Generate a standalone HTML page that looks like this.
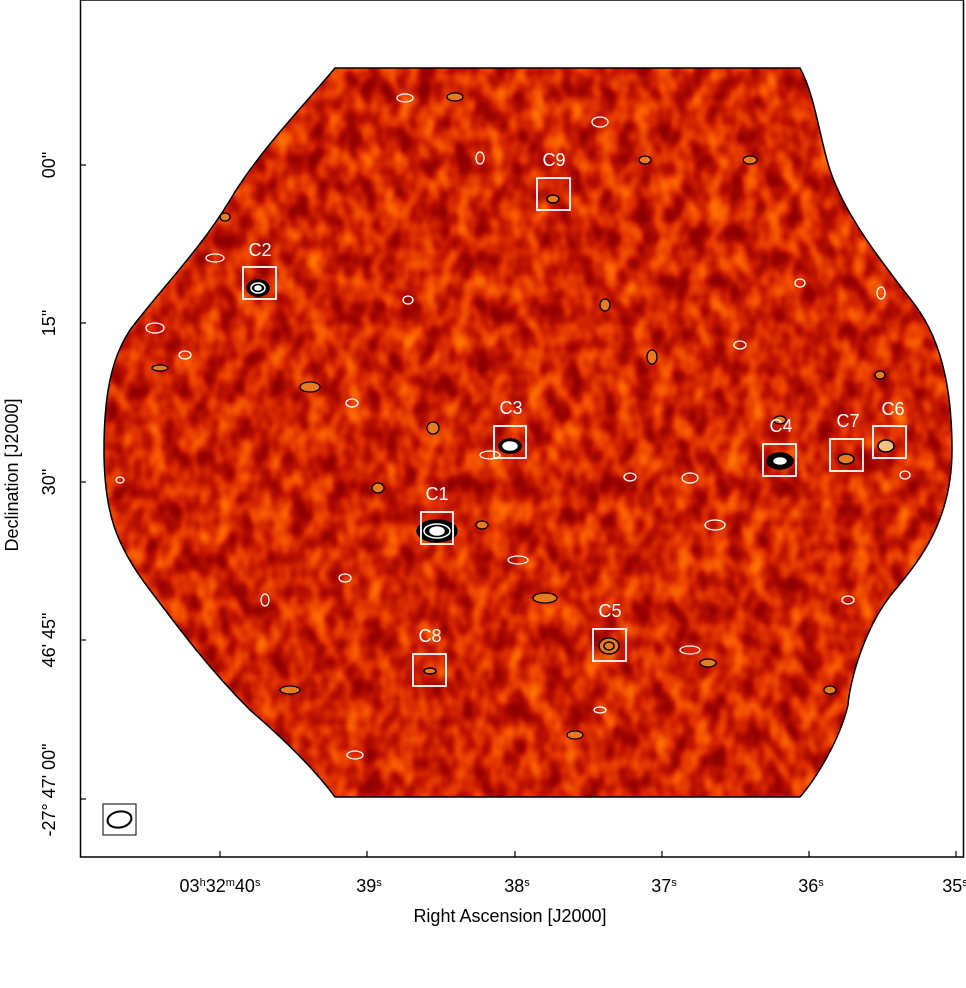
<!DOCTYPE html>
<html><head><meta charset="utf-8"><style>
body{margin:0;background:#fff;width:966px;height:988px;overflow:hidden}
svg{position:absolute;left:0;top:0}
text{font-family:"Liberation Sans","DejaVu Sans",sans-serif}
</style></head><body>
<svg width="966" height="988" viewBox="0 0 966 988">
<defs>
<filter id="n" x="0" y="0" width="100%" height="100%" color-interpolation-filters="sRGB">
<feTurbulence type="fractalNoise" baseFrequency="0.055 0.04" numOctaves="2" seed="7" result="t"/>
<feColorMatrix in="t" type="matrix" values="1 0 0 0 0  1 0 0 0 0  1 0 0 0 0  0 0 0 0 1" result="g"/>
<feComponentTransfer in="g">
<feFuncR type="table" tableValues="0.5 0.55 0.62 0.75 0.88 0.96 1 1"/>
<feFuncG type="table" tableValues="0 0 0.02 0.08 0.2 0.33 0.45 0.55"/>
<feFuncB type="table" tableValues="0 0 0 0 0 0 0 0"/>
</feComponentTransfer>
</filter>
<clipPath id="cp"><path id="shape" d="M335,68 L800,68 C815,95 820,140 830,170 C845,215 880,260 915,305 C945,345 952,400 952,450 C952,520 920,560 895,590 C865,625 850,680 848,705 C840,740 815,780 800,797 L335,797 C315,770 285,740 250,710 C210,670 180,630 150,590 C115,545 104,510 104,450 C104,400 110,360 130,330 C160,290 200,250 230,200 C260,150 300,110 335,68 Z"/></clipPath>
</defs>
<g clip-path="url(#cp)">
<rect x="80" y="60" width="885" height="745" fill="#c0320a"/>
<rect x="80" y="60" width="885" height="745" filter="url(#n)"/>
</g>
<use href="#shape" fill="none" stroke="#000" stroke-width="1.5"/>
<g fill="none" stroke-width="1.5">
<ellipse cx="437" cy="531" rx="20" ry="11" fill="#000" stroke="#000"/>
<ellipse cx="437" cy="531" rx="13" ry="7" stroke="#fff"/>
<ellipse cx="437" cy="531" rx="7" ry="4" fill="#fff" stroke="#fff"/>
<ellipse cx="258" cy="288" rx="11" ry="8" fill="#000" stroke="#000"/>
<ellipse cx="258" cy="288" rx="7" ry="5" stroke="#fff"/>
<ellipse cx="258" cy="288" rx="3" ry="2" fill="#fff" stroke="#fff"/>
<ellipse cx="510" cy="446" rx="11" ry="7" fill="#000" stroke="#000"/>
<ellipse cx="510" cy="446" rx="7" ry="4" fill="#fff" stroke="#fff"/>
<ellipse cx="780" cy="461" rx="13" ry="8" fill="#000" stroke="#000"/>
<ellipse cx="780" cy="461" rx="6" ry="3" fill="#fff" stroke="#fff"/>
<ellipse cx="609" cy="646" rx="10" ry="8" fill="#e87a20" stroke="#000"/>
<ellipse cx="609" cy="646" rx="5" ry="4" stroke="#000"/>
<ellipse cx="846" cy="459" rx="8" ry="5" fill="#e87a20" stroke="#000"/>
<ellipse cx="886" cy="446" rx="8" ry="6" fill="#f5c080" stroke="#000"/>
<ellipse cx="553" cy="199" rx="6" ry="4" fill="#e87a20" stroke="#000"/>
<ellipse cx="430" cy="671" rx="6" ry="3" fill="#e87a20" stroke="#000"/>
</g>
<g fill="none" stroke-width="1.3">
<g stroke="#fff">
<ellipse cx="405" cy="98" rx="8" ry="4"/><ellipse cx="600" cy="122" rx="8" ry="5"/><ellipse cx="480" cy="158" rx="4" ry="6"/>
<ellipse cx="215" cy="258" rx="9" ry="4"/><ellipse cx="155" cy="328" rx="9" ry="5"/><ellipse cx="185" cy="355" rx="6" ry="4"/>
<ellipse cx="352" cy="403" rx="6" ry="4"/><ellipse cx="690" cy="478" rx="8" ry="5"/><ellipse cx="630" cy="477" rx="6" ry="4"/>
<ellipse cx="518" cy="560" rx="10" ry="4"/><ellipse cx="345" cy="578" rx="6" ry="4"/><ellipse cx="265" cy="600" rx="4" ry="6"/>
<ellipse cx="690" cy="650" rx="10" ry="4"/><ellipse cx="800" cy="283" rx="5" ry="4"/><ellipse cx="881" cy="293" rx="4" ry="6"/>
<ellipse cx="848" cy="600" rx="6" ry="4"/><ellipse cx="715" cy="525" rx="10" ry="5"/><ellipse cx="120" cy="480" rx="4" ry="3"/>
<ellipse cx="600" cy="710" rx="6" ry="3"/><ellipse cx="355" cy="755" rx="8" ry="4"/><ellipse cx="490" cy="455" rx="10" ry="4"/>
<ellipse cx="905" cy="475" rx="5" ry="4"/><ellipse cx="740" cy="345" rx="6" ry="4"/><ellipse cx="408" cy="300" rx="5" ry="4"/>
</g>
<g stroke="#000" fill="#e87a20">
<ellipse cx="455" cy="97" rx="8" ry="4"/><ellipse cx="645" cy="160" rx="6" ry="4"/><ellipse cx="750" cy="160" rx="7" ry="4"/>
<ellipse cx="605" cy="305" rx="5" ry="6"/><ellipse cx="652" cy="357" rx="5" ry="7"/><ellipse cx="310" cy="387" rx="10" ry="5"/>
<ellipse cx="433" cy="428" rx="6" ry="6"/><ellipse cx="378" cy="488" rx="6" ry="5"/><ellipse cx="545" cy="598" rx="12" ry="5"/>
<ellipse cx="290" cy="690" rx="10" ry="4"/><ellipse cx="708" cy="663" rx="8" ry="4"/><ellipse cx="830" cy="690" rx="6" ry="4"/>
<ellipse cx="160" cy="368" rx="8" ry="3"/><ellipse cx="880" cy="375" rx="5" ry="4"/><ellipse cx="780" cy="420" rx="6" ry="4"/>
<ellipse cx="575" cy="735" rx="8" ry="4"/><ellipse cx="482" cy="525" rx="6" ry="4"/><ellipse cx="225" cy="217" rx="5" ry="4"/>
</g>
</g>
<g fill="none" stroke="#fff" stroke-width="1.8">
<rect x="421" y="512" width="32" height="32"/>
<rect x="243" y="267" width="33" height="32"/>
<rect x="494" y="426" width="32" height="32"/>
<rect x="763" y="444" width="33" height="32"/>
<rect x="830" y="439" width="33" height="32"/>
<rect x="873" y="426" width="33" height="32"/>
<rect x="593" y="629" width="33" height="32"/>
<rect x="413" y="654" width="33" height="32"/>
<rect x="537" y="178" width="33" height="32"/>
</g>
<g fill="#fff" font-size="18" text-anchor="middle">
<text x="437" y="500">C1</text><text x="260" y="256">C2</text><text x="511" y="414">C3</text>
<text x="781" y="432">C4</text><text x="610" y="617">C5</text><text x="893" y="415">C6</text>
<text x="848" y="427">C7</text><text x="430" y="642">C8</text><text x="554" y="166">C9</text>
</g>
<rect x="103" y="804" width="33" height="31" fill="none" stroke="#000" stroke-width="1"/>
<ellipse cx="119.5" cy="819.5" rx="12" ry="8" transform="rotate(-10 119.5 819.5)" fill="none" stroke="#000" stroke-width="2"/>
<rect x="80.5" y="0" width="883" height="857" fill="none" stroke="#000" stroke-width="1.5"/>
<g stroke="#000" stroke-width="1.2">
<line x1="220" y1="857" x2="220" y2="851"/><line x1="367" y1="857" x2="367" y2="851"/><line x1="515" y1="857" x2="515" y2="851"/>
<line x1="662" y1="857" x2="662" y2="851"/><line x1="809" y1="857" x2="809" y2="851"/><line x1="956" y1="857" x2="956" y2="851"/>
<line x1="80" y1="165" x2="86" y2="165"/><line x1="80" y1="323" x2="86" y2="323"/><line x1="80" y1="482" x2="86" y2="482"/>
<line x1="80" y1="640" x2="86" y2="640"/><line x1="80" y1="799" x2="86" y2="799"/>
</g>
<g font-size="18" fill="#000" text-anchor="middle">
<text x="220" y="892">03<tspan font-size="11" dy="-6">h</tspan><tspan dy="6">32</tspan><tspan font-size="11" dy="-6">m</tspan><tspan dy="6">40</tspan><tspan font-size="11" dy="-6">s</tspan></text>
<text x="369" y="892">39<tspan font-size="11" dy="-6">s</tspan></text>
<text x="517" y="892">38<tspan font-size="11" dy="-6">s</tspan></text>
<text x="664" y="892">37<tspan font-size="11" dy="-6">s</tspan></text>
<text x="811" y="892">36<tspan font-size="11" dy="-6">s</tspan></text>
<text x="955" y="892">35<tspan font-size="11" dy="-6">s</tspan></text>
<text x="510" y="922">Right Ascension [J2000]</text>
<text transform="translate(55 165) rotate(-90)">00"</text>
<text transform="translate(55 323) rotate(-90)">15"</text>
<text transform="translate(55 482) rotate(-90)">30"</text>
<text transform="translate(55 640) rotate(-90)">46' 45"</text>
<text transform="translate(55 790) rotate(-90)">-27° 47' 00"</text>
<text transform="translate(18 475) rotate(-90)">Declination [J2000]</text>
</g>
</svg>
</body></html>
